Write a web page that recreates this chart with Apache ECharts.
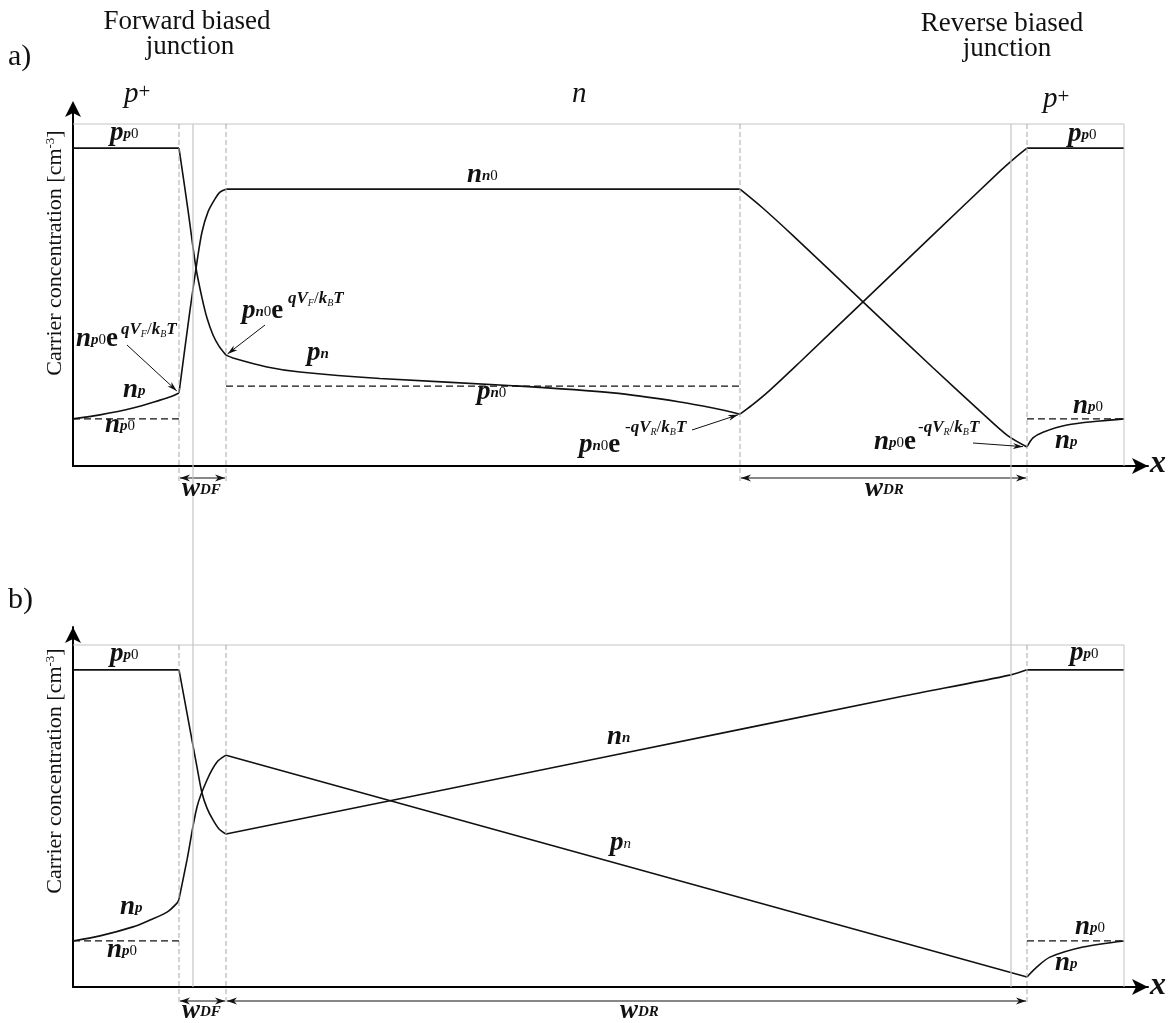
<!DOCTYPE html>
<html>
<head>
<meta charset="utf-8">
<title>Carrier concentration in a p+ n p+ structure</title>
<script src="https://cdn.jsdelivr.net/npm/echarts@6.0.0/dist/echarts.min.js"></script>
<style>
  html, body { margin: 0; padding: 0; background: #fff; }
  #chart { width: 1172px; height: 1023px; }
</style>
</head>
<body>
<div id="chart"></div>
<script>
// Position along the device (x, arbitrary units) and carrier concentration (y, arbitrary units).

// ---------- a) short-base case: holes (p) and electrons (n) ----------
const aHolePlateauL = [[0, 88.3], [10.6, 88.3]];
const aHoleDropF = [[10.6, 88.3], [11.5, 71.1], [12.3, 55.0], [12.9, 46.7], [13.4, 41.1], [14.0, 36.4], [14.6, 33.3], [15.3, 30.8]];
const aHoleDecayN = [[15.3, 30.8], [16.0, 30.0], [19.4, 27.5], [22.7, 26.1], [30.7, 24.3], [44.0, 22.3], [54.0, 20.3], [60.7, 17.8], [64.0, 16.1], [66.7, 14.4]];
const aHoleRiseR = [[66.7, 14.4], [67.9, 16.9], [69.7, 21.1], [72.7, 28.9], [79.0, 45.6], [86.0, 64.2], [92.7, 81.9], [94.2, 85.6], [95.4, 88.3]];
const aHolePlateauR = [[95.4, 88.3], [105.1, 88.3]];
const aElecRiseL = [[0, 13.1], [2.7, 14.2], [6.0, 16.1], [8.7, 18.3], [9.9, 19.4], [10.6, 20.3]];
const aElecRiseF = [[10.6, 20.3], [11.7, 43.3], [12.4, 56.7], [12.9, 65.0], [13.5, 70.6], [14.2, 74.2], [14.7, 76.1], [15.3, 76.9]];
const aElecPlateauN = [[15.3, 76.9], [66.7, 76.9]];
const aElecDropR = [[66.7, 76.9], [69.0, 71.6], [72.0, 64.0], [79.0, 45.6], [86.0, 27.3], [91.0, 14.5], [93.4, 8.6], [95.4, 5.3]];
const aElecRiseR = [[95.4, 5.3], [96.0, 7.8], [97.0, 9.4], [99.4, 11.4], [102.7, 12.5], [105.1, 13.1]];

// ---------- b) fully depleted base ----------
const bHolePlateauL = [[0, 88.1], [10.6, 88.1]];
const bHoleDropF = [[10.6, 88.1], [11.4, 76.1], [12.4, 61.1], [12.9, 53.9], [13.4, 49.7], [14.0, 46.4], [14.6, 43.9], [15.3, 42.5]];
const bElecRiseN = [[15.3, 42.5], [52.7, 63.6], [82.7, 80.6], [93.8, 86.7], [95.4, 88.1]];
const bHolePlateauR = [[95.4, 88.1], [105.1, 88.1]];
const bElecRiseL = [[0, 12.8], [2.7, 14.2], [6.0, 16.7], [7.7, 18.6], [9.4, 20.8], [10.4, 23.3], [10.6, 24.4]];
const bElecRiseF = [[10.6, 24.4], [11.4, 35.3], [12.4, 50.0], [13.4, 57.5], [14.4, 62.5], [15.3, 64.4]];
const bHoleDropN = [[15.3, 64.4], [52.7, 35.6], [95.4, 2.8]];
const bElecRiseR = [[95.4, 2.8], [96.4, 5.6], [97.7, 8.3], [101.0, 11.1], [105.1, 12.8]];

// ---------- reference geometry ----------
const deviceX = [0, 105.1];                 // device extent
const junctionX = [12.0, 93.8];             // metallurgical junctions
const edgesA = [10.6, 15.3, 66.7, 95.4];    // depletion edges, a)
const edgesB = [10.6, 15.3, 95.4];          // depletion edges, b)
const frameTop = [95, 95];                  // upper frame level, a) and b)
const equilibriumA = [22.2, 13.1];          // pn0, np0 in a)
const equilibriumB = [12.8];                // np0 in b)
const widthsA = [[10.6, 15.3], [66.7, 95.4]]; // w_DF, w_DR in a)
const widthsB = [[10.6, 15.3], [15.3, 95.4]]; // w_DF, w_DR in b)

const SERIF = '"Liberation Serif", "Times New Roman", serif';

function curve(g, data, smooth) {
  return {
    type: 'line', xAxisIndex: g, yAxisIndex: g, data: data,
    showSymbol: false, symbol: 'none', silent: true,
    smooth: smooth ? 0.3 : false,
    lineStyle: { color: '#111', width: 1.6 }
  };
}

function xAxisFor(g) {
  return {
    gridIndex: g, type: 'value', min: 0, max: 107.5,
    axisLine: { show: true, onZero: false, lineStyle: { color: '#000', width: 2 },
      symbol: ['none', 'arrow'], symbolSize: [12, 16], symbolOffset: [0, 0] },
    axisTick: { show: false }, axisLabel: { show: false }, splitLine: { show: false }
  };
}
function yAxisFor(g, endOffset) {
  return {
    gridIndex: g, type: 'value', min: 0, max: 100,
    axisLine: { show: true, onZero: false, lineStyle: { color: '#000', width: 2 },
      symbol: ['none', 'arrow'], symbolSize: [12, 16], symbolOffset: [0, endOffset] },
    axisTick: { show: false }, axisLabel: { show: false }, splitLine: { show: false }
  };
}

const option = {
  animation: false,
  backgroundColor: '#fff',
  grid: [
    { left: 73, top: 106, width: 1075, height: 360 },
    { left: 73, top: 627, width: 1075, height: 360 }
  ],
  xAxis: [xAxisFor(0), xAxisFor(1)],
  yAxis: [yAxisFor(0, 5), yAxisFor(1, 0)],
  series: [
    curve(0, aHolePlateauL, false), curve(0, aHoleDropF, true), curve(0, aHoleDecayN, true),
    curve(0, aHoleRiseR, true), curve(0, aHolePlateauR, false),
    curve(0, aElecRiseL, true), curve(0, aElecRiseF, true), curve(0, aElecPlateauN, false),
    curve(0, aElecDropR, true), curve(0, aElecRiseR, true),
    curve(1, bHolePlateauL, false), curve(1, bHoleDropF, true), curve(1, bElecRiseN, true),
    curve(1, bHolePlateauR, false), curve(1, bElecRiseL, true), curve(1, bElecRiseF, true),
    curve(1, bHoleDropN, false), curve(1, bElecRiseR, true)
  ]
};

const chart = echarts.init(document.getElementById('chart'), null, { renderer: 'canvas' });
chart.setOption(option);

// ---------- overlay: frame lines, dimension arrows, symbols ----------
const P = (g, x, y) => chart.convertToPixel({ gridIndex: g }, [x, y]);
const els = [];

function seg(p1, p2, style) {
  els.push({ type: 'line', silent: true, z: 10,
    shape: { x1: p1[0], y1: p1[1], x2: p2[0], y2: p2[1] },
    style: Object.assign({ stroke: '#111', lineWidth: 1 }, style) });
}
function head(tip, from, L, W) {
  const dx = tip[0] - from[0], dy = tip[1] - from[1];
  const d = Math.hypot(dx, dy), ux = dx / d, uy = dy / d, nx = -uy, ny = ux;
  els.push({ type: 'polygon', silent: true, z: 11,
    shape: { points: [
      [tip[0], tip[1]],
      [tip[0] - ux * L + nx * W / 2, tip[1] - uy * L + ny * W / 2],
      [tip[0] - ux * L * 0.7, tip[1] - uy * L * 0.7],
      [tip[0] - ux * L - nx * W / 2, tip[1] - uy * L - ny * W / 2]
    ] },
    style: { fill: '#111' } });
}
function arrow(from, tip) {
  seg(from, tip, { lineWidth: 1 });
  head(tip, from, 10, 6);
}
function dimension(a, b) {
  seg(a, b, { lineWidth: 1.2 });
  head(a, b, 10, 7);
  head(b, a, 10, 7);
}

const GRAY = '#c4c4c4';
const DASHGRAY = '#a8a8a8';

[0, 1].forEach(function (g) {
  const top = frameTop[g];
  // frame
  seg(P(g, deviceX[0], top), P(g, deviceX[1], top), { stroke: GRAY, lineWidth: 1 });
  seg(P(g, deviceX[1], top), P(g, deviceX[1], 0), { stroke: GRAY, lineWidth: 1 });
  // depletion edges
  const edges = g === 0 ? edgesA : edgesB;
  edges.forEach(function (x) {
    const b = P(g, x, 0);
    seg(P(g, x, top), [b[0], b[1] + 18], { stroke: DASHGRAY, lineDash: [5, 3] });
  });
  // depletion widths
  const widths = g === 0 ? widthsA : widthsB;
  const off = g === 0 ? 12 : 14;
  widths.forEach(function (w) {
    const p1 = P(g, w[0], 0), p2 = P(g, w[1], 0);
    dimension([p1[0] + 1, p1[1] + off], [p2[0] - 1, p2[1] + off]);
  });
});

// metallurgical junctions run through both panels
junctionX.forEach(function (x) {
  seg(P(0, x, frameTop[0]), P(1, x, 0), { stroke: GRAY, lineWidth: 1.2 });
});

// equilibrium minority levels (dashed)
const DASH = { stroke: '#111', lineWidth: 1.2, lineDash: [7, 4] };
seg(P(0, deviceX[0], equilibriumA[1]), P(0, edgesA[0], equilibriumA[1]), DASH);
seg(P(0, edgesA[1], equilibriumA[0]), P(0, edgesA[2], equilibriumA[0]), DASH);
seg(P(0, edgesA[3], equilibriumA[1]), P(0, deviceX[1], equilibriumA[1]), DASH);
seg(P(1, deviceX[0], equilibriumB[0]), P(1, edgesB[0], equilibriumB[0]), DASH);
seg(P(1, edgesB[2], equilibriumB[0]), P(1, deviceX[1], equilibriumB[0]), DASH);

// pointers to the boundary concentrations in a)
function pointer(tail, pt, gap) {
  const tip = P(0, pt[0], pt[1]);
  const dx = tip[0] - tail[0], dy = tip[1] - tail[1], d = Math.hypot(dx, dy);
  arrow(tail, [tip[0] - dx / d * gap, tip[1] - dy / d * gap]);
}
pointer([127, 345], aElecRiseL[aElecRiseL.length - 1], 3);
pointer([265, 325], aHoleDropF[aHoleDropF.length - 1], 2);
pointer([692, 430], aHoleDecayN[aHoleDecayN.length - 1], 2);
pointer([973, 443], aElecDropR[aElecDropR.length - 1], 4);

// ---------- text ----------
const rich = {
  m: { fontFamily: SERIF, fontSize: 27, fontStyle: 'italic', fontWeight: 'bold', lineHeight: 34, fill: '#111' },
  e: { fontFamily: SERIF, fontSize: 27, fontWeight: 'bold', lineHeight: 34, fill: '#111' },
  s: { fontFamily: SERIF, fontSize: 15, fontStyle: 'italic', fontWeight: 'bold', verticalAlign: 'bottom', padding: [0, 0, 8, 0], fill: '#111' },
  t: { fontFamily: SERIF, fontSize: 15, fontStyle: 'italic', verticalAlign: 'bottom', padding: [0, 0, 8, 0], fill: '#111' },
  z: { fontFamily: SERIF, fontSize: 15, verticalAlign: 'bottom', padding: [0, 0, 8, 0], fill: '#111' },
  u: { fontFamily: SERIF, fontSize: 17, fontStyle: 'italic', fontWeight: 'bold', lineHeight: 20, fill: '#111' },
  r: { fontFamily: SERIF, fontSize: 17, lineHeight: 20, fill: '#111' },
  v: { fontFamily: SERIF, fontSize: 10, fontStyle: 'italic', verticalAlign: 'bottom', padding: [0, 0, 1, 0], fill: '#111' },
  x: { fontFamily: SERIF, fontSize: 32, fontStyle: 'italic', fontWeight: 'bold', lineHeight: 34, fill: '#111' },
  P: { fontFamily: SERIF, fontSize: 29, fontStyle: 'italic', lineHeight: 34, fill: '#111' },
  q: { fontFamily: SERIF, fontSize: 21, verticalAlign: 'top', padding: [5, 0, 0, 0], fill: '#111' },
  Y: { fontFamily: SERIF, fontSize: 22, lineHeight: 26, fill: '#111' },
  y: { fontFamily: SERIF, fontSize: 13, verticalAlign: 'top', padding: [2, 0, 0, 0], fill: '#111' }
};

function put(x, baseline, text, lead, align) {
  els.push({ type: 'text', silent: true, z: 12, x: x, y: baseline - lead,
    style: { text: text, rich: rich, align: align || 'left', verticalAlign: 'top' } });
}
function plain(x, baseline, text, size, align) {
  const lh = Math.round(size * 1.15);
  els.push({ type: 'text', silent: true, z: 12, x: x, y: baseline - (lh / 2 + 0.3375 * size),
    style: { text: text, fontFamily: SERIF, fontSize: size, lineHeight: lh, fill: '#111', align: align || 'left', verticalAlign: 'top' } });
}

const SYM = 26;   // baseline offset of a symbol line
const EXP = 16;   // baseline offset of an exponent line
const expF = '{u|q}{u|V}{v|F}{r|/}{u|k}{v|B}{u|T}';
const expR = '{r|-}{u|q}{u|V}{v|R}{r|/}{u|k}{v|B}{u|T}';

// panel captions and region names
plain(8, 67, 'a)', 30);
plain(8, 610, 'b)', 30);
plain(187, 31, 'Forward biased', 27, 'center');
plain(190, 56, 'junction', 27, 'center');
plain(1002, 33, 'Reverse biased', 27, 'center');
plain(1007, 58, 'junction', 27, 'center');
put(124, 104, '{P|p}{q|+}', 27);
put(572, 104, '{P|n}', 27);
put(1043, 109, '{P|p}{q|+}', 27);

// a) symbols
put(110, 142, '{m|p}{s|p}{z|0}', SYM);
put(123, 399, '{m|n}{s|p}', SYM);
put(105, 434, '{m|n}{s|p}{z|0}', SYM);
put(76, 348, '{m|n}{s|p}{z|0}{e|e}', SYM);
put(121, 336, expF, EXP);
put(242, 320, '{m|p}{s|n}{z|0}{e|e}', SYM);
put(288, 305, expF, EXP);
put(307, 362, '{m|p}{s|n}', SYM);
put(467, 184, '{m|n}{s|n}{z|0}', SYM);
put(477, 401, '{m|p}{s|n}{z|0}', SYM);
put(579, 454, '{m|p}{s|n}{z|0}{e|e}', SYM);
put(625, 434, expR, EXP);
put(874, 451, '{m|n}{s|p}{z|0}{e|e}', SYM);
put(918, 434, expR, EXP);
put(1055, 450, '{m|n}{s|p}', SYM);
put(1073, 415, '{m|n}{s|p}{z|0}', SYM);
put(1068, 143, '{m|p}{s|p}{z|0}', SYM);
put(182, 498, '{m|w}{s|DF}', SYM);
put(865, 498, '{m|w}{s|DR}', SYM);
put(1150, 475, '{x|x}', 28);

// b) symbols
put(110, 663, '{m|p}{s|p}{z|0}', SYM);
put(120, 916, '{m|n}{s|p}', SYM);
put(107, 959, '{m|n}{s|p}{z|0}', SYM);
put(607, 746, '{m|n}{s|n}', SYM);
put(610, 852, '{m|p}{t|n}', SYM);
put(1070, 662, '{m|p}{s|p}{z|0}', SYM);
put(1075, 936, '{m|n}{s|p}{z|0}', SYM);
put(1055, 972, '{m|n}{s|p}', SYM);
put(182, 1020, '{m|w}{s|DF}', SYM);
put(620, 1020, '{m|w}{s|DR}', SYM);
put(1150, 997, '{x|x}', 28);

// axis titles
[253, 771].forEach(function (cy) {
  els.push({ type: 'text', silent: true, z: 12, x: 55, y: cy, rotation: Math.PI / 2,
    style: { text: '{Y|Carrier concentration [cm}{y|-3}{Y|]}', rich: rich, align: 'center', verticalAlign: 'middle' } });
});

chart.setOption({ graphic: { elements: els } });
</script>
</body>
</html>
